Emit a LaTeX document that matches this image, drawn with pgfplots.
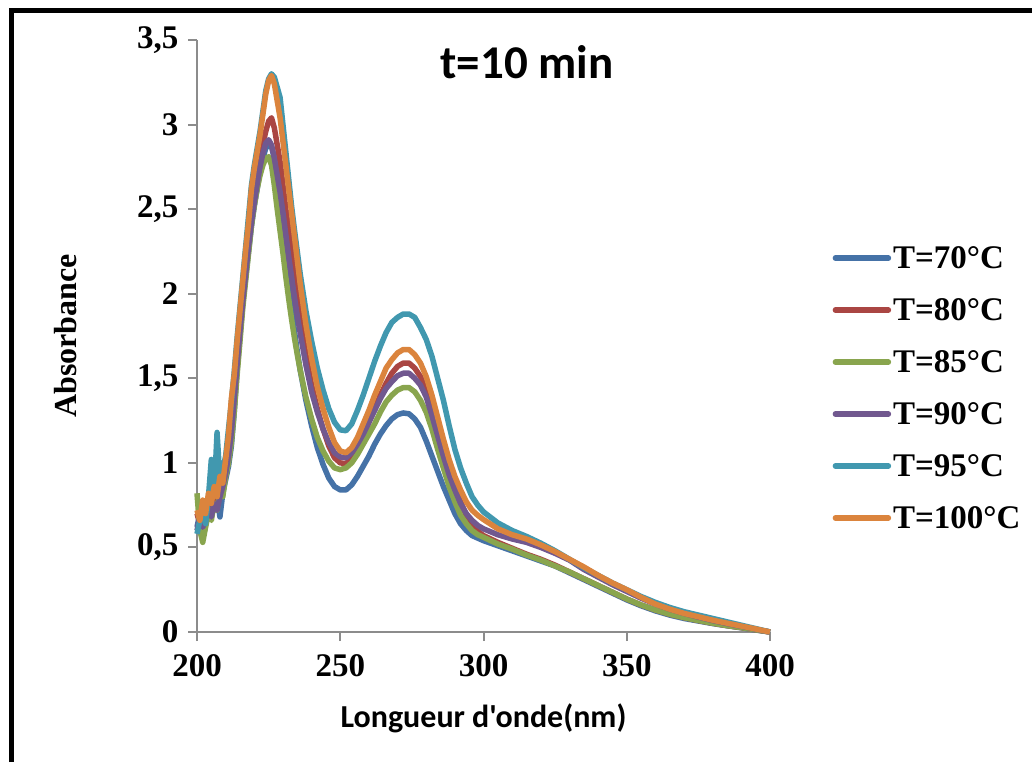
\documentclass[border=0pt]{standalone}
\usepackage{fontspec}
\setmainfont{Liberation Serif}
\newfontfamily\carlito{Carlito}
\usepackage{pgfplots}
\usepackage{pgfplotstable}
\pgfplotsset{compat=1.18}
\definecolor{c70}{HTML}{4572A7}
\definecolor{c80}{HTML}{AA4643}
\definecolor{c85}{HTML}{89A54E}
\definecolor{c90}{HTML}{71588F}
\definecolor{c95}{HTML}{4198AF}
\definecolor{c100}{HTML}{DB843D}
\definecolor{axgray}{HTML}{8C8C8C}

\pgfplotstableread{
x y
200 0.62
201 0.70
202 0.64
203 0.72
204 0.68
205 0.78
206 0.72
207 0.80
208 0.68
209 0.82
210 0.90
211 0.98
212 1.10
213 1.30
214 1.55
215 1.75
216 1.95
217 2.10
218 2.25
219 2.40
220 2.52
221 2.62
222 2.72
223 2.80
224 2.86
225 2.88
226 2.87
227 2.80
228 2.68
229 2.54
230 2.38
231 2.22
232 2.06
233 1.92
234 1.78
235 1.66
236 1.55
238 1.37
240 1.22
242 1.09
244 0.99
246 0.91
248 0.86
250 0.84
252 0.84
254 0.87
256 0.92
258 0.98
260 1.04
262 1.11
264 1.17
266 1.22
268 1.26
270 1.285
272 1.295
274 1.29
276 1.26
278 1.21
280 1.13
282 1.04
284 0.95
286 0.86
288 0.78
290 0.70
292 0.64
294 0.60
296 0.57
298 0.555
300 0.54
305 0.51
310 0.48
315 0.45
320 0.42
325 0.39
330 0.35
335 0.31
340 0.27
345 0.23
350 0.19
355 0.155
360 0.125
365 0.10
370 0.08
375 0.065
380 0.05
385 0.037
390 0.025
395 0.012
400 0.0
}\tseventy

\pgfplotstableread{
x y
200 0.70
201 0.64
202 0.72
203 0.68
204 0.76
205 0.72
206 0.82
207 0.78
208 0.88
209 0.84
210 0.96
211 1.06
212 1.22
213 1.42
214 1.64
215 1.84
216 2.02
217 2.18
218 2.32
219 2.46
220 2.58
221 2.68
222 2.78
223 2.88
224 2.96
225 3.02
226 3.04
227 2.98
228 2.88
229 2.78
230 2.64
231 2.50
232 2.38
233 2.24
234 2.10
235 1.97
236 1.85
238 1.64
240 1.46
242 1.32
244 1.20
246 1.10
248 1.03
250 1.00
252 0.995
254 1.03
256 1.09
258 1.16
260 1.24
262 1.32
264 1.40
266 1.47
268 1.53
270 1.57
272 1.59
274 1.59
276 1.56
278 1.51
280 1.43
282 1.32
284 1.20
286 1.07
288 0.95
290 0.85
292 0.77
294 0.69
296 0.63
298 0.595
300 0.57
305 0.53
310 0.495
315 0.46
320 0.43
325 0.395
330 0.355
335 0.315
340 0.275
345 0.235
350 0.195
355 0.16
360 0.13
365 0.105
370 0.085
375 0.068
380 0.052
385 0.038
390 0.026
395 0.013
400 0.0
}\teighty

\pgfplotstableread{
x y
200 0.82
201 0.60
202 0.53
203 0.62
204 0.70
205 0.66
206 0.76
207 0.72
208 0.84
209 0.80
210 0.92
211 1.00
212 1.12
213 1.30
214 1.52
215 1.72
216 1.92
217 2.08
218 2.24
219 2.40
220 2.52
221 2.62
222 2.70
223 2.76
224 2.80
225 2.81
226 2.76
227 2.64
228 2.50
229 2.37
230 2.24
231 2.10
232 1.97
233 1.85
234 1.74
235 1.64
236 1.55
238 1.39
240 1.26
242 1.15
244 1.07
246 1.01
248 0.97
250 0.96
252 0.97
254 1.00
256 1.05
258 1.11
260 1.17
262 1.23
264 1.30
266 1.36
268 1.40
270 1.43
272 1.445
274 1.445
276 1.42
278 1.37
280 1.30
282 1.20
284 1.08
286 0.97
288 0.86
290 0.77
292 0.69
294 0.64
296 0.60
298 0.575
300 0.56
305 0.52
310 0.49
315 0.455
320 0.425
325 0.39
330 0.355
335 0.315
340 0.275
345 0.235
350 0.195
355 0.16
360 0.13
365 0.105
370 0.085
375 0.068
380 0.052
385 0.038
390 0.026
395 0.013
400 0.0
}\teightyfive

\pgfplotstableread{
x y
200 0.60
201 0.68
202 0.62
203 0.66
204 0.72
205 0.68
206 0.76
207 0.72
208 0.80
209 0.86
210 0.94
211 1.04
212 1.18
213 1.38
214 1.58
215 1.78
216 1.96
217 2.12
218 2.28
219 2.42
220 2.54
221 2.65
222 2.75
223 2.83
224 2.89
225 2.91
226 2.88
227 2.80
228 2.70
229 2.60
230 2.48
231 2.35
232 2.22
233 2.10
234 1.98
235 1.87
236 1.77
238 1.58
240 1.42
242 1.30
244 1.20
246 1.12
248 1.06
250 1.035
252 1.03
254 1.06
256 1.11
258 1.17
260 1.24
262 1.31
264 1.38
266 1.44
268 1.48
270 1.515
272 1.53
274 1.53
276 1.50
278 1.46
280 1.39
282 1.28
284 1.16
286 1.04
288 0.93
290 0.84
292 0.76
294 0.70
296 0.66
298 0.63
300 0.61
305 0.575
310 0.55
315 0.53
320 0.50
325 0.465
330 0.425
335 0.37
340 0.325
345 0.28
350 0.24
355 0.20
360 0.165
365 0.135
370 0.11
375 0.088
380 0.068
385 0.05
390 0.034
395 0.017
400 0.0
}\tninety

\pgfplotstableread{
x y
200 0.58
201 0.66
202 0.72
203 0.64
204 0.80
205 1.02
206 0.82
207 1.18
208 0.90
209 0.96
210 1.04
211 1.20
212 1.36
213 1.54
214 1.74
215 1.92
216 2.10
217 2.28
218 2.46
219 2.64
220 2.76
221 2.86
222 2.96
223 3.08
224 3.20
225 3.27
226 3.30
227 3.28
228 3.22
229 3.16
230 3.00
231 2.84
232 2.68
233 2.52
234 2.38
235 2.25
236 2.12
238 1.90
240 1.72
242 1.56
244 1.43
246 1.32
248 1.24
250 1.195
252 1.19
254 1.23
256 1.31
258 1.40
260 1.50
262 1.60
264 1.69
266 1.77
268 1.83
270 1.86
272 1.88
274 1.88
276 1.86
278 1.80
280 1.73
282 1.63
284 1.50
286 1.37
288 1.22
290 1.08
292 0.97
294 0.88
296 0.80
298 0.75
300 0.71
305 0.645
310 0.60
315 0.565
320 0.525
325 0.48
330 0.43
335 0.38
340 0.335
345 0.29
350 0.25
355 0.21
360 0.175
365 0.145
370 0.12
375 0.10
380 0.08
385 0.06
390 0.04
395 0.02
400 0.0
}\tninetyfive

\pgfplotstableread{
x y
200 0.72
201 0.66
202 0.78
203 0.70
204 0.82
205 0.76
206 0.86
207 0.80
208 0.92
209 0.88
210 1.02
211 1.16
212 1.38
213 1.52
214 1.72
215 1.90
216 2.08
217 2.26
218 2.42
219 2.62
220 2.74
221 2.84
222 2.94
223 3.06
224 3.18
225 3.26
226 3.29
227 3.24
228 3.14
229 3.04
230 2.90
231 2.76
232 2.62
233 2.48
234 2.34
235 2.20
236 2.06
238 1.82
240 1.62
242 1.45
244 1.32
246 1.21
248 1.12
250 1.07
252 1.06
254 1.09
256 1.15
258 1.23
260 1.31
262 1.40
264 1.48
266 1.56
268 1.61
270 1.65
272 1.67
274 1.67
276 1.64
278 1.59
280 1.51
282 1.40
284 1.27
286 1.14
288 1.02
290 0.92
292 0.84
294 0.77
296 0.72
298 0.69
300 0.665
305 0.61
310 0.575
315 0.55
320 0.515
325 0.475
330 0.43
335 0.385
340 0.335
345 0.29
350 0.25
355 0.205
360 0.165
365 0.135
370 0.11
375 0.09
380 0.07
385 0.052
390 0.035
395 0.018
400 0.0
}\thundred

\begin{document}
\begin{tikzpicture}[x=1pt,y=1pt]
\useasboundingbox (0,0) rectangle (1032,762);
\draw[black, line width=4.5pt, line join=miter] (11.5,0) -- (11.5,751.5) -- (1032,751.5);
\begin{axis}[
  at={(197pt,130pt)}, anchor=south west,
  scale only axis, width=573pt, height=592pt,
  xmin=200, xmax=400, ymin=0, ymax=3.5,
  axis x line*=bottom, axis y line*=left,
  axis line style={-, axgray, line width=2pt},
  tick style={axgray, line width=2pt},
  major tick length=9pt, tick align=outside,
  xtick={200,250,300,350,400},
  ytick={0,0.5,1,1.5,2,2.5,3,3.5},
  yticklabels={0,{0,5},1,{1,5},2,{2,5},3,{3,5}},
  xticklabels={200,250,300,350,400},
  /pgf/number format/assume math mode=true,
  ticklabel style={font=\bfseries\fontsize{33}{33}\selectfont},
  yticklabel style={xshift=-6pt},
  xticklabel style={yshift=-10pt},
  xlabel={\carlito\bfseries Longueur d'onde(nm)},
  xlabel style={font=\fontsize{32}{32}\selectfont, at={(axis description cs:0.5,-0.145)}, anchor=center},
  ylabel={\bfseries Absorbance},
  ylabel style={font=\fontsize{32}{32}\selectfont, at={(axis description cs:-0.230,0.5)}, anchor=center},
  clip=false,
  legend cell align=left,
  legend style={at={(axis description cs:1.109,0.655)}, anchor=north west, draw=none, fill=none,
    font=\bfseries\fontsize{33}{33}\selectfont, row sep=24.5pt, inner sep=0pt},
  legend image code/.code={\draw[#1, line cap=round] (0pt,0pt) -- (53pt,0pt);},
  every axis plot/.append style={line width=5.5pt, line join=round},
]
\addplot[c70] table {\tseventy};
\addlegendentry{T=70°C}
\addplot[c80] table {\teighty};
\addlegendentry{T=80°C}
\addplot[c85] table {\teightyfive};
\addlegendentry{T=85°C}
\addplot[c90] table {\tninety};
\addlegendentry{T=90°C}
\addplot[c95] table {\tninetyfive};
\addlegendentry{T=95°C}
\addplot[c100] table {\thundred};
\addlegendentry{T=100°C}
\node[font=\carlito\bfseries\fontsize{47}{47}\selectfont] at (axis description cs:0.576,0.963) {t=10 min};
\end{axis}
\end{tikzpicture}
\end{document}
